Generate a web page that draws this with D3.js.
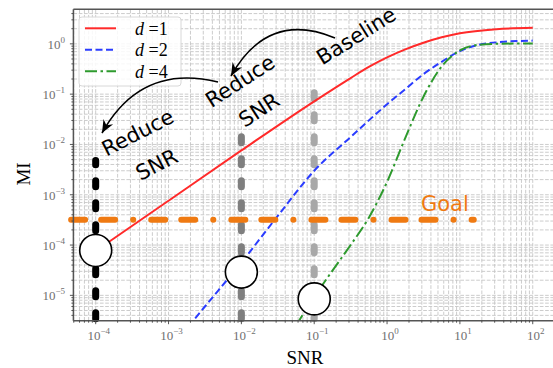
<!DOCTYPE html>
<html>
<head>
<meta charset="utf-8">
<script src="https://cdn.jsdelivr.net/npm/d3@7"></script>
<style>
  body { margin: 0; background: #fff; }
  svg { display: block; }
</style>
</head>
<body>
<div id="chart"></div>
<script>
// values
const snrD1 = [1e-4, 1e-3, 1e-2, 0.1, 0.316, 0.562, 1, 1.78, 3.16, 5.62, 10, 31.6, 100];
const miD1 = [7.6e-5, 7.6e-4, 7.6e-3, 0.072, 0.209, 0.347, 0.537, 0.776, 1.05, 1.35, 1.62, 1.95, 2.08];

const snrD2 = [1e-3, 3.16e-3, 1e-2, 3.16e-2, 0.1, 0.316, 1, 1.78, 3.16, 5.62, 10, 31.6, 100];
const miD2 = [7.9e-7, 6.0e-6, 4.5e-5, 3.8e-4, 3.0e-3, 1.4e-2, 0.063, 0.126, 0.25, 0.44, 0.72, 1.07, 1.16];

const snrD4 = [0.0562, 0.1, 0.178, 0.316, 0.562, 1, 1.78, 3.16, 5.62, 10, 17.8, 31.6, 100];
const miD4 = [2.5e-6, 9.3e-6, 3.1e-5, 1.0e-4, 3.5e-4, 1.8e-3, 1.35e-2, 0.089, 0.355, 0.74, 0.955, 1.0, 1.02];

const seriesNames = ["1", "2", "4"];
const xTickExps = [-4, -3, -2, -1, 0, 1, 2];
const yTickExps = [-5, -4, -3, -2, -1, 0];

const markerSNR = [1e-4, 1e-2, 1e-1];
const markerTop = [4.8e-3, 2.6e-2, 0.2];
const circleMI = [7.8e-5, 2.9e-5, 8.5e-6];

const goalMI = 3.2e-4;
const goalSNR = [4.6e-5, 15.5];

const width = 553;
const height = 368;

const svg = d3
  .select("#chart")
  .append("svg")
  .attr("width", width)
  .attr("height", height)
  .style("font-family", "'DejaVu Sans', sans-serif");

const x = d3.scaleLog().domain([10 ** -4.306, 10 ** 2.3]).range([73.4, 554.6]);
const y = d3.scaleLog().domain([10 ** -5.504, 10 ** 0.687]).range([320.7, 9.3]);

const [x0, x1] = x.range();
const [y0, y1] = y.range();

svg
  .append("defs")
  .append("clipPath")
  .attr("id", "plot-clip")
  .append("rect")
  .attr("x", x0)
  .attr("y", y1)
  .attr("width", x1 - x0)
  .attr("height", y0 - y1);

// grid, major and minor
const logValues = (scale) => {
  const [lo, hi] = scale.domain();
  const out = [];
  for (let k = -7; k <= 3; k++) {
    for (let m = 1; m <= 9; m++) {
      const v = m * 10 ** k;
      if (v >= lo && v <= hi) out.push(v);
    }
  }
  return out;
};

const grid = svg.append("g").attr("stroke", "#c6c6c6").attr("stroke-width", 0.9).attr("stroke-dasharray", "3.7,1.6");
grid
  .selectAll(".gx")
  .data(logValues(x))
  .enter()
  .append("line")
  .attr("x1", (d) => x(d))
  .attr("x2", (d) => x(d))
  .attr("y1", y0)
  .attr("y2", y1);
grid
  .selectAll(".gy")
  .data(logValues(y))
  .enter()
  .append("line")
  .attr("y1", (d) => y(d))
  .attr("y2", (d) => y(d))
  .attr("x1", x0)
  .attr("x2", x1);

// vertical SNR markers
const markerColors = ["#000000", "#7f7f7f", "#a8a8a8"];
svg
  .selectAll(".marker")
  .data(markerSNR)
  .enter()
  .append("line")
  .attr("x1", (d) => x(d))
  .attr("x2", (d) => x(d))
  .attr("y1", y0 - 2)
  .attr("y2", (d, i) => y(markerTop[i]))
  .attr("stroke", (d, i) => markerColors[i])
  .attr("stroke-width", 7)
  .attr("stroke-linecap", "round")
  .attr("stroke-dasharray", "6,16");

// curves
const line = d3
  .line()
  .x((d) => x(d[0]))
  .y((d) => y(d[1]))
  .curve(d3.curveMonotoneX);

const series = [
  { snr: snrD1, mi: miD1, color: "#ff2a2a", dash: null },
  { snr: snrD2, mi: miD2, color: "#2a3cff", dash: "7,3.5" },
  { snr: snrD4, mi: miD4, color: "#2e9a2e", dash: "12,3.5,2.5,3.5" },
];

const curves = svg.append("g").attr("clip-path", "url(#plot-clip)");
series.forEach((s) => {
  curves
    .append("path")
    .attr("d", line(s.snr.map((v, i) => [v, s.mi[i]])))
    .attr("fill", "none")
    .attr("stroke", s.color)
    .attr("stroke-width", 2)
    .attr("stroke-dasharray", s.dash);
});

// goal line
svg
  .append("line")
  .attr("x1", x(goalSNR[0]))
  .attr("x2", x(goalSNR[1]))
  .attr("y1", y(goalMI))
  .attr("y2", y(goalMI))
  .attr("stroke", "#ef7a12")
  .attr("stroke-width", 6)
  .attr("stroke-linecap", "round")
  .attr("stroke-dasharray", "14,16,14,18,0.1,18");

svg
  .append("text")
  .attr("x", 421)
  .attr("y", 211)
  .text("Goal")
  .attr("fill", "#ef7a12")
  .style("font-size", "21px");

// circles
svg
  .selectAll(".spot")
  .data(markerSNR)
  .enter()
  .append("circle")
  .attr("cx", (d) => x(d))
  .attr("cy", (d, i) => y(circleMI[i]))
  .attr("r", 16)
  .attr("fill", "#fff")
  .attr("stroke", "#000")
  .attr("stroke-width", 1.6);

// spines
const spines = svg.append("g").attr("stroke", "#555").attr("stroke-width", 1.5).attr("fill", "none");
spines.append("path").attr("d", `M${x0},${y0}H${x1}M${x0},${y0}V${y1}M${x0},${y1}H${x1}`);

// ticks
const majorX = xTickExps.map((e) => 10 ** e);
const majorY = yTickExps.map((e) => 10 ** e);
const minorX = logValues(x).filter((v) => !majorX.some((m) => Math.abs(m - v) / m < 1e-9));
const minorY = logValues(y).filter((v) => !majorY.some((m) => Math.abs(m - v) / m < 1e-9));

const ticks = svg.append("g").attr("stroke", "#444").attr("stroke-width", 0.9);
ticks.selectAll(".tx").data(majorX).enter().append("line")
  .attr("x1", (d) => x(d)).attr("x2", (d) => x(d)).attr("y1", y0).attr("y2", y0 + 3.5);
ticks.selectAll(".mx").data(minorX).enter().append("line")
  .attr("x1", (d) => x(d)).attr("x2", (d) => x(d)).attr("y1", y0).attr("y2", y0 + 2);
ticks.selectAll(".ty").data(majorY).enter().append("line")
  .attr("y1", (d) => y(d)).attr("y2", (d) => y(d)).attr("x1", x0).attr("x2", x0 - 3.5);
ticks.selectAll(".my").data(minorY).enter().append("line")
  .attr("y1", (d) => y(d)).attr("y2", (d) => y(d)).attr("x1", x0).attr("x2", x0 - 2);

const tickLabel = (sel, exp) => {
  sel.append("tspan").text("10");
  sel
    .append("tspan")
    .attr("dy", -6)
    .style("font-size", "9px")
    .text(exp < 0 ? "\u2212" + Math.abs(exp) : String(exp));
};

svg
  .selectAll(".xl")
  .data(xTickExps)
  .enter()
  .append("text")
  .attr("x", (d) => x(10 ** d) + 3)
  .attr("y", 340)
  .attr("text-anchor", "middle")
  .attr("fill", "#707070")
  .style("font-family", "'Liberation Serif', serif")
  .style("font-size", "13px")
  .each(function (d) {
    tickLabel(d3.select(this), d);
  });

svg
  .selectAll(".yl")
  .data(yTickExps)
  .enter()
  .append("text")
  .attr("x", 65)
  .attr("y", (d) => y(10 ** d) + 5)
  .attr("text-anchor", "end")
  .attr("fill", "#707070")
  .style("font-family", "'Liberation Serif', serif")
  .style("font-size", "13px")
  .each(function (d) {
    tickLabel(d3.select(this), d);
  });

// axis titles
svg
  .append("text")
  .attr("x", 305)
  .attr("y", 364)
  .attr("text-anchor", "middle")
  .style("font-family", "'Liberation Serif', serif")
  .style("font-size", "19px")
  .text("SNR");

svg
  .append("text")
  .attr("transform", "translate(30,174) rotate(-90)")
  .attr("text-anchor", "middle")
  .style("font-family", "'Liberation Serif', serif")
  .style("font-size", "19px")
  .text("MI");

// legend
const legend = svg.append("g");
legend
  .append("rect")
  .attr("x", 79)
  .attr("y", 17)
  .attr("width", 102)
  .attr("height", 69)
  .attr("rx", 3)
  .attr("fill", "#fff")
  .attr("fill-opacity", 0.85)
  .attr("stroke", "#d8d8d8");

series.forEach((s, i) => {
  const ly = 28.3 + i * 21.5;
  legend
    .append("line")
    .attr("x1", 85)
    .attr("x2", 116)
    .attr("y1", ly)
    .attr("y2", ly)
    .attr("stroke", s.color)
    .attr("stroke-width", 2)
    .attr("stroke-dasharray", s.dash);
  const t = legend
    .append("text")
    .attr("x", 135)
    .attr("y", ly + 6.5)
    .style("font-family", "'Liberation Serif', serif")
    .style("font-size", "18px");
  t.append("tspan").style("font-style", "italic").text("d");
  t.append("tspan").text(" =" + seriesNames[i]);
});

// arrows
svg
  .append("defs")
  .append("marker")
  .attr("id", "head")
  .attr("viewBox", "-14 -7 15 14")
  .attr("markerUnits", "userSpaceOnUse")
  .attr("markerWidth", 15)
  .attr("markerHeight", 14)
  .attr("refX", 0)
  .attr("refY", 0)
  .attr("orient", "auto")
  .append("path")
  .attr("d", "M0,0L-13,-5.5L-9,0L-13,5.5Z")
  .attr("fill", "#000");

const arrows = [
  "M335,38Q268,10 231,76",
  "M218,82Q141,63 102,133",
];
svg
  .selectAll(".arrow")
  .data(arrows)
  .enter()
  .append("path")
  .attr("d", (d) => d)
  .attr("fill", "none")
  .attr("stroke", "#000")
  .attr("stroke-width", 1.6)
  .attr("marker-end", "url(#head)");

// annotation words
const notes = [
  { text: "Baseline", x: 360, y: 42, a: -32 },
  { text: "Reduce", x: 244, y: 87, a: -33 },
  { text: "SNR", x: 263, y: 116, a: -33 },
  { text: "Reduce", x: 141, y: 139, a: -27 },
  { text: "SNR", x: 160, y: 171, a: -27 },
];
svg
  .selectAll(".note")
  .data(notes)
  .enter()
  .append("text")
  .attr("transform", (d) => `translate(${d.x},${d.y}) rotate(${d.a})`)
  .attr("text-anchor", "middle")
  .style("font-size", "21px")
  .text((d) => d.text);
</script>
</body>
</html>
